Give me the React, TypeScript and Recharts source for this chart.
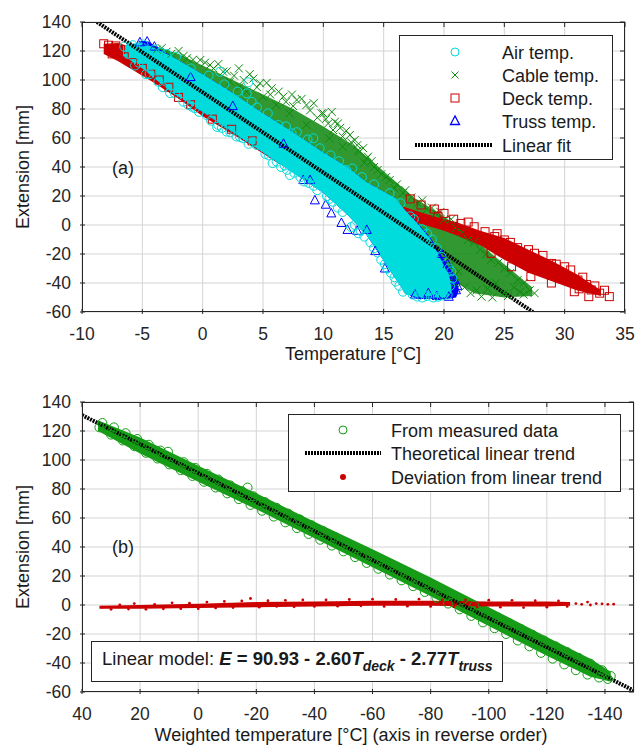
import React from "react"
import { ComposedChart, XAxis, YAxis, CartesianGrid, Scatter, Area, Line } from "recharts"

const FONT = '"Liberation Sans", Arial, sans-serif'
const AX = "#262626"
const GRID = "#d4d4d4"

// ---- panel (a): extension vs temperature ----
const tempTicks = [-10, -5, 0, 5, 10, 15, 20, 25, 30, 35]
const extTicks = [-60, -40, -20, 0, 20, 40, 60, 80, 100, 120, 140]

// dense cores of each cloud: [temperature, lowest extension, highest extension]
const airBand: number[][] = [
  [-6.6, 117, 124], [-5, 108, 126], [-2.5, 91, 116], [0, 78, 104], [2.5, 64, 91],
  [5, 50, 77], [7.5, 36, 64], [10, 22, 50], [12, 7, 40], [13.5, -6, 30],
  [14.8, -22, 24], [15.9, -36, 19], [16.8, -47, 10], [17.8, -50, 1], [18.9, -50, -10],
  [20.3, -50, -33], [20.6, -47, -40],
]
const trussBand: number[][] = [
  [-5.3, 118, 127], [-4.5, 112, 126.5], [-3.5, 104, 121], [-2.5, 91, 116], [0, 78, 104],
  [2.5, 64, 91], [5, 50, 77], [7.5, 36, 64], [10, 22, 50], [12, 7, 40], [13.5, -6, 30],
  [14.8, -22, 24], [15.9, -36, 19], [16.8, -47, 10], [17.8, -51, 1.5], [18.9, -51, -9],
  [20.3, -51, -28], [21, -50, -36], [21.2, -46, -42],
]
const cableBand: number[][] = [
  [-4.2, 118, 124], [-2, 106, 118], [0, 95, 110], [2.5, 82, 100], [5, 70, 90],
  [7.5, 56, 80], [10, 42, 68], [12.5, 28, 55], [15, 12, 37], [17.5, -8, 19],
  [20, -35, 6], [22.5, -47, -10], [25, -50, -27], [27.3, -49, -43],
]
const deckBand: number[][] = [
  [-8.2, 118, 125], [-7, 113, 125.5], [-6, 108, 123], [-5, 103, 118], [-4, 98, 113],
  [-2, 87, 102], [0, 75, 90], [3, 60, 76], [6, 44, 60], [9, 30, 46], [12, 17, 33], [15, 5, 17],
  [18, 1, 9], [20, -4, 4], [21, -7, 2], [23, -14, -4], [25, -24, -9], [27, -33, -17],
  [29, -39, -25], [31, -45, -34], [33, -49, -45],
]

// individual markers around the edges: [temperature, extension]
const airPts: number[][] = [
  [-6.5, 123], [-5.8, 124], [-4.9, 124.5], [-4, 121], [-3, 118], [1.43, 105.7], [3.78, 98.4],
  [3.65, 90.8], [4.06, 85], [6.27, 69], [7.37, 63.2], [9.17, 59.8], [9.7, 52.9], [11.9, 37.9],
  [15.5, 21.9], [15.9, 15], [17.2, 6], [18.2, -3], [19, -10], [20.05, -35.6], [20.6, -32],
  [20.3, -48], [-6.2, 118], [-5.3, 112], [-4.4, 104], [-3.68, 98.8], [-2.3, 90.8], [-1.6, 85],
  [-0.64, 80.5], [-0.9, 81.6], [0.33, 75.9], [1.2, 67.6], [1.29, 69], [1.99, 64.4], [3.1, 60.7],
  [3.36, 59.8], [4.47, 55.2], [5.8, 42.7], [6.13, 43.7], [7, 38], [7.23, 34.5], [8.1, 33],
  [9.2, 27], [10.3, 20], [11.2, 12], [12.3, -1.4], [12.9, -5.7], [13.4, -8], [13.9, -12],
  [14.8, -24], [15.3, -30], [15.9, -36], [16.3, -42], [17, -44.8], [17.8, -49.4], [18.6, -49],
  [19.5, -49.5], [-5.6, 110], [-4.7, 104], [-3.3, 95], [-2.7, 91], [-1.2, 83], [-0.3, 78],
  [0.7, 72], [1.6, 67], [2.3, 64], [2.8, 61], [3.8, 56], [4.2, 57], [5.2, 49], [5.5, 48],
  [6.5, 40], [6.8, 41], [7.6, 36], [8.4, 30], [8.8, 29], [9.5, 24], [10.5, 18], [10.8, 16],
  [11.6, 9], [12.6, 0], [13.1, -4], [14.2, -16], [14.5, -19], [15.1, -27], [15.6, -33],
  [16, -39], [16.6, -46], [17.4, -48], [18.2, -50], [19.1, -50], [19.9, -48.5], [-3.5, 119],
  [-2.2, 116], [-1, 108], [0.5, 103], [1.8, 97], [2.9, 92], [4.5, 81], [5.4, 77], [6.9, 68],
  [7.8, 64], [8.7, 59], [10.6, 48], [11.3, 44], [12.4, 39], [13.2, 33], [14.2, 28], [16.4, 15],
  [17.5, 4], [18.6, -6], [19.4, -16], [19.8, -22], [20.4, -30], [20.5, -42], [20.7, -37],
]
const trussPts: number[][] = [
  [-5.2, 126], [-4.6, 126.5], [-4, 123], [8.34, 31], [8.9, 31], [9.3, 17], [10.2, 14],
  [10.66, 8], [11.5, 1.4], [12, -3.4], [13.6, -3.4], [12.8, -4], [18.7, -47], [21, -45],
  [20.9, -38], [19.4, -49], [17.6, -48], [20.4, -49.5], [21.1, -42], [14.3, -18], [15.1, -30],
  [19.8, -20], [20.3, -27], [6.7, 56], [2.5, 82], [-1, 102],
]
const cablePts: number[][] = [
  [-3.8, 121], [-3, 119.5], [-1.3, 115], [-0.2, 113.8], [0.6, 110.3], [1.7, 105.7], [2.26, 98.8],
  [3.09, 95.4], [3.65, 92], [4.2, 101], [4.75, 97.7], [5, 88.5], [5.72, 94.3], [6.1, 82.8],
  [6.68, 88.5], [7.2, 77], [7.79, 86.2], [8.6, 82.8], [8.6, 69], [9.86, 77], [10, 77],
  [10.4, 70], [10.5, 59.8], [10.8, 65.5], [10.96, 71.2], [11.2, 70], [11.6, 61], [11.6, 54],
  [12.2, 62.1], [12.6, 58.6], [12.9, 51.7], [13, 50.6], [13.4, 43], [13.6, 46], [13.7, 47.1],
  [14.5, 37.9], [15.2, 33], [15.9, 25.3], [16.6, 22], [17.8, 15], [18.6, 11], [19.3, 8],
  [20, 3.6], [21, -2], [22, -10.3], [23, -17], [23.9, -24], [25, -30], [26.1, -38],
  [27.1, -45], [21.7, -43], [22.7, -45], [23.1, -49.4], [25, -47], [25.8, -43], [24.3, -40],
  [26.6, -48], [20.8, -36], [20.5, -28], [-3.4, 122], [-2.6, 118], [-2, 120], [-1.6, 116.5],
  [-0.8, 114], [0.2, 112], [0.9, 108], [1.3, 111], [2, 106], [2.6, 103], [3, 108], [3.4, 100],
  [3.9, 104], [4.5, 95], [5.3, 98], [5.6, 90], [6.3, 92], [6.9, 85], [7.4, 90], [7.5, 82],
  [8.2, 87], [8.9, 79], [9.2, 84], [9.5, 74], [10.2, 73], [10.7, 78], [11.4, 67], [11.9, 65],
  [12.3, 57], [12.8, 55], [13.3, 53], [14, 44], [14.2, 40], [14.8, 35], [15.5, 31], [16.1, 28],
  [16.8, 24], [17.3, 19], [18.2, 17], [19, 12], [19.7, 9], [20.6, 4], [21.5, -5], [22.5, -12],
  [23.5, -20], [24.5, -26], [25.5, -33], [26.6, -40], [27.5, -47], [22.2, -47], [24, -50],
  [25.3, -49], [26.3, -46], [20.9, -40], [21.2, -32], [23.6, -44],
]
const deckPts: number[][] = [
  [-8.2, 125], [-7.8, 124], [-7.2, 123.5], [-6.8, 121], [-7.5, 118], [-6.5, 116], [-5.8, 112],
  [-5, 108], [-4.3, 104], [-3.6, 100], [-2.8, 95], [-2, 88], [-1, 83], [0.8, 73], [2.4, 66],
  [4.1, 58], [17.2, 18], [18.1, 13.8], [19.2, 11], [20, 8], [21.4, 1.1], [22.5, -1.2],
  [23.4, -4.6], [21.4, -3.4], [25, -10.3], [26.1, -15.6], [27.5, -19.5], [28.9, -26.5],
  [30, -28.8], [31.1, -38], [32.2, -44.8], [32.9, -47], [33.7, -49.4], [32, -49.4],
  [30.8, -46], [28.9, -40], [27.2, -35.6], [25.6, -28.8], [23.9, -19.5], [24.2, -8],
  [29.5, -33], [31.8, -41], [26.8, -25], [19.5, 6], [20.8, 4], [22, 2], [24.4, -6],
  [25.5, -12], [27, -17], [28.2, -21], [29.3, -27], [30.5, -31], [31.5, -36], [32.5, -42],
  [33.3, -45], [26, -22], [27.8, -31], [29.8, -37], [31.2, -44], [24.8, -16], [22.8, -9],
]
const fitA: number[][] = [[-8.76, 140], [27.37, -60]]

// ---- panel (b): extension vs weighted temperature ----
const wTicks = [40, 20, 0, -20, -40, -60, -80, -100, -120, -140]

const measBand: number[][] = [
  [34.5, 120, 127.5], [20, 104.5, 115.5], [0, 85, 96], [-20, 66, 77], [-40, 46, 57.5],
  [-60, 26, 38.5], [-80, 6, 19], [-100, -14.5, -1.5], [-120, -35, -22], [-135, -49.5, -37],
  [-142, -53, -46],
]
const measPts: number[][] = [
  [34, 122.5], [33, 125.5], [30, 117.5], [29, 122.5], [26, 113.5], [25, 118.5], [22, 109.5],
  [21, 114.5], [18, 105], [17, 110.5], [14, 101], [13, 106.5], [10, 97], [10.4, 105.7],
  [6, 93], [5, 98.5], [2, 89], [1, 94.5], [-2, 85], [-3, 90.5], [-6, 81], [-7, 86.5],
  [-10, 77], [-11, 82.5], [-14, 73], [-15, 78.5], [-17, 81], [-18, 69], [-19, 75], [-22, 65],
  [-23, 71], [-26, 61], [-27, 67], [-30, 57], [-31, 63], [-34, 53], [-35, 59], [-38, 49],
  [-39, 55], [-42, 45], [-43, 51], [-46, 41], [-47, 47], [-50, 37], [-51, 43], [-54, 33],
  [-55, 39], [-58, 29], [-59, 35], [-62, 25], [-63, 31.5], [-66, 21], [-67, 27.5], [-70, 17],
  [-71, 23.5], [-74, 13], [-75, 19.5], [-78, 9], [-79, 15.5], [-82, 5], [-83, 11.5], [-86, 1],
  [-87, 7.5], [-90, -3], [-91, 3.5], [-94, -7.5], [-95, -0.5], [-98, -12], [-99, -4.5],
  [-102, -16], [-103, -8.5], [-106, -20], [-107, -12.5], [-110, -24.5], [-111, -16.5],
  [-114, -28.5], [-115, -20.5], [-118, -33], [-119, -24.5], [-122, -37], [-123, -28.5],
  [-126, -41], [-127, -32.5], [-130, -45], [-131, -36.5], [-134, -48], [-135, -40.5],
  [-138, -50], [-139, -45], [-141, -51], [-142, -49],
]
const devBand: number[][] = [
  [34, -2.5, -0.5], [20, -2.5, 0], [0, -2, 0.8], [-20, -1.5, 2], [-40, -1, 2.5],
  [-60, -0.5, 3], [-80, -0.5, 3], [-100, -1, 2.5], [-120, -1, 2.5], [-128, -0.5, 2],
]
const devPts: number[][] = [
  [33, -1.5], [30, -3], [27, 0], [24, -2.8], [22, 1], [18, -3], [15, 0.5], [12, -2.6], [9, 1.5],
  [6, -2.5], [3, 1.2], [0, -2.5], [-3, 2], [-6, -2], [-9, 2.5], [-12, -1.8], [-15, 2.8],
  [-18, 4.5], [-21, -1.5], [-24, 3], [-27, -1], [-30, 3.2], [-33, -1.2], [-36, 3.5], [-40, -1],
  [-44, 3.5], [-48, -0.8], [-52, 3.8], [-56, -0.5], [-60, 4], [-64, -1], [-68, 3.8],
  [-72, -0.8], [-76, 4], [-80, -1], [-84, 3.6], [-88, -1.2], [-92, 3.5], [-96, -1.5],
  [-100, 3.3], [-104, -1.5], [-108, 3.2], [-112, -1.8], [-116, 3], [-120, -1.5], [-124, 2.8],
  [-127, -1], [-130, 1], [-132, 0.5], [-134, 2], [-135, 0], [-137, 1], [-139, 0.8],
  [-141, 0.5], [-143, 0.6],
]
const fitB: number[][] = [[40, 130.93], [-150, -59.07]]

const band = (rows: number[][]) => rows.map(([x, lo, hi]) => ({ x, r: [lo, hi] }))
const pts = (rows: number[][]) => rows.map(([x, y]) => ({ x, y }))

const C_AIR = "#00dcdc"
const C_CABLE = "#0b8a0b"
const C_DECK = "#cc0000"
const C_TRUSS = "#0000ff"
const C_MEAS = "#169c16"

// plot boxes in page pixels
const PA = { left: 82, top: 22, right: 625, bottom: 312 }
const PB = { left: 82, top: 402, right: 634, bottom: 692 }

const circle = (color: string, r = 4.5) => (p: any) => (
  <circle cx={p.cx} cy={p.cy} r={r} fill="none" stroke={color} strokeWidth={1} />
)
const dot = (color: string, r = 1.4) => (p: any) => <circle cx={p.cx} cy={p.cy} r={r} fill={color} />
const cross = (color: string) => (p: any) => (
  <g stroke={color} strokeWidth={1}>
    <line x1={p.cx - 4} y1={p.cy - 4} x2={p.cx + 4} y2={p.cy + 4} />
    <line x1={p.cx - 4} y1={p.cy + 4} x2={p.cx + 4} y2={p.cy - 4} />
  </g>
)
const square = (color: string) => (p: any) => (
  <rect x={p.cx - 4} y={p.cy - 4} width={8} height={8} fill="none" stroke={color} strokeWidth={1} />
)
const triangle = (color: string) => (p: any) => (
  <polygon
    points={`${p.cx},${p.cy - 5} ${p.cx - 4.5},${p.cy + 3.5} ${p.cx + 4.5},${p.cy + 3.5}`}
    fill="none"
    stroke={color}
    strokeWidth={1}
  />
)

// inward tick marks on both sides of the box, label outside
const xTick = (top: number) => (props: any) => {
  const { y, payload } = props
  const x = payload.coordinate
  return (
    <g>
      <line x1={x} x2={x} y1={y} y2={y - 5} stroke={AX} />
      <line x1={x} x2={x} y1={top} y2={top + 5} stroke={AX} />
      <text x={x} y={y + 26} textAnchor="middle" fontSize={17.5} fill={AX} fontFamily={FONT}>
        {payload.value}
      </text>
    </g>
  )
}
const yTick = (right: number) => (props: any) => {
  const { x, y, payload } = props
  return (
    <g>
      <line x1={x} x2={x + 5} y1={y} y2={y} stroke={AX} />
      <line x1={right} x2={right - 5} y1={y} y2={y} stroke={AX} />
      <text x={x - 9} y={y + 6} textAnchor="end" fontSize={17.5} fill={AX} fontFamily={FONT}>
        {payload.value}
      </text>
    </g>
  )
}

function PanelA() {
  return (
    <ComposedChart width={638} height={345} margin={{ top: PA.top, right: 638 - PA.right, bottom: 0, left: 0 }}>
      <CartesianGrid stroke={GRID} />
      <XAxis
        dataKey="x" type="number" domain={[-10, 35]} ticks={tempTicks} interval={0} height={33}
        allowDataOverflow tickSize={0} axisLine={false} tickLine={false} tick={xTick(PA.top)}
      />
      <YAxis
        dataKey="y" type="number" domain={[-60, 140]} ticks={extTicks} interval={0} width={82}
        allowDataOverflow tickSize={0} axisLine={false} tickLine={false} tick={yTick(PA.right)}
      />
      <Area data={band(cableBand)} dataKey="r" type="linear" fill="#1c8e1c" fillOpacity={0.9} stroke="none" isAnimationActive={false} />
      <Scatter data={pts(cablePts)} shape={cross(C_CABLE)} isAnimationActive={false} />
      <Area data={band(deckBand)} dataKey="r" type="linear" fill={C_DECK} fillOpacity={1} stroke="none" isAnimationActive={false} />
      <Scatter data={pts(deckPts)} shape={square(C_DECK)} isAnimationActive={false} />
      <Area data={band(trussBand)} dataKey="r" type="linear" fill={C_TRUSS} fillOpacity={1} stroke="none" isAnimationActive={false} />
      <Scatter data={pts(trussPts)} shape={triangle(C_TRUSS)} isAnimationActive={false} />
      <Area data={band(airBand)} dataKey="r" type="linear" fill={C_AIR} fillOpacity={1} stroke="none" isAnimationActive={false} />
      <Scatter data={pts(airPts)} shape={circle(C_AIR)} isAnimationActive={false} />
      <Line data={pts(fitA)} dataKey="y" type="linear" stroke="#000" strokeWidth={4} strokeDasharray="2 1" dot={false} isAnimationActive={false} />
    </ComposedChart>
  )
}

function PanelB() {
  return (
    <ComposedChart width={638} height={345} margin={{ top: 22, right: 638 - PB.right, bottom: 0, left: 0 }}>
      <CartesianGrid stroke={GRID} />
      <XAxis
        dataKey="x" type="number" domain={[-150, 40]} reversed ticks={wTicks} interval={0} height={33}
        allowDataOverflow tickSize={0} axisLine={false} tickLine={false} tick={xTick(22)}
      />
      <YAxis
        dataKey="y" type="number" domain={[-60, 140]} ticks={extTicks} interval={0} width={82}
        allowDataOverflow tickSize={0} axisLine={false} tickLine={false} tick={yTick(PB.right)}
      />
      <Area data={band(measBand)} dataKey="r" type="linear" fill={C_MEAS} fillOpacity={1} stroke="none" isAnimationActive={false} />
      <Scatter data={pts(measPts)} shape={circle(C_MEAS)} isAnimationActive={false} />
      <Area data={band(devBand)} dataKey="r" type="linear" fill={C_DECK} fillOpacity={1} stroke="none" isAnimationActive={false} />
      <Scatter data={pts(devPts)} shape={dot(C_DECK)} isAnimationActive={false} />
      <Line data={pts(fitB)} dataKey="y" type="linear" stroke="#000" strokeWidth={4} strokeDasharray="2 1" dot={false} isAnimationActive={false} />
    </ComposedChart>
  )
}

function Overlay() {
  const t = { fontFamily: FONT, fill: "#1a1a1a" }
  const legA = [
    { label: "Air temp.", y: 52 },
    { label: "Cable temp.", y: 75 },
    { label: "Deck temp.", y: 98 },
    { label: "Truss temp.", y: 121 },
    { label: "Linear fit", y: 145 },
  ]
  return (
    <svg width={638} height={747} style={{ position: "absolute", left: 0, top: 0, pointerEvents: "none" }}>
      {/* frames */}
      <rect x={PA.left + 0.5} y={PA.top + 0.5} width={PA.right - PA.left - 1} height={PA.bottom - PA.top - 1} fill="none" stroke={AX} />
      <rect x={PB.left + 0.5} y={PB.top + 0.5} width={PB.right - PB.left - 1} height={PB.bottom - PB.top - 1} fill="none" stroke={AX} />

      {/* axis titles */}
      <text x={353} y={360} textAnchor="middle" fontSize={18} {...t}>Temperature [°C]</text>
      <text x={351} y={741} textAnchor="middle" fontSize={18} {...t}>Weighted temperature [°C] (axis in reverse order)</text>
      <text transform="translate(29,167) rotate(-90)" textAnchor="middle" fontSize={18} {...t}>Extension [mm]</text>
      <text transform="translate(29,547) rotate(-90)" textAnchor="middle" fontSize={18} {...t}>Extension [mm]</text>
      <text x={112} y={174} fontSize={18} {...t}>(a)</text>
      <text x={112} y={553} fontSize={18} {...t}>(b)</text>

      {/* legend (a) */}
      <rect x={399.5} y={35.5} width={213} height={124} fill="#fff" stroke={AX} />
      <circle cx={455} cy={52} r={4} fill="none" stroke={C_AIR} />
      <g stroke={C_CABLE}>
        <line x1={451.5} y1={71.5} x2={458.5} y2={78.5} />
        <line x1={451.5} y1={78.5} x2={458.5} y2={71.5} />
      </g>
      <rect x={451} y={94} width={8} height={8} fill="none" stroke={C_DECK} />
      <polygon points="455,116 450.5,124.5 459.5,124.5" fill="none" stroke={C_TRUSS} strokeWidth={1.3} />
      <line x1={415} x2={492} y1={145} y2={145} stroke="#000" strokeWidth={4} strokeDasharray="2 1" />
      {legA.map(r => (
        <text key={r.label} x={502} y={r.y + 6.5} fontSize={18} {...t}>{r.label}</text>
      ))}

      {/* legend (b) */}
      <rect x={288.5} y={414.5} width={332} height={77} fill="#fff" stroke={AX} />
      <circle cx={343} cy={430} r={4} fill="none" stroke={C_MEAS} />
      <line x1={305} x2={381} y1={453} y2={453} stroke="#000" strokeWidth={4} strokeDasharray="2 1" />
      <circle cx={343} cy={477} r={3} fill={C_DECK} />
      <text x={391} y={436.5} fontSize={18} {...t}>From measured data</text>
      <text x={391} y={459.5} fontSize={18} {...t}>Theoretical linear trend</text>
      <text x={391} y={483.5} fontSize={18} {...t}>Deviation from linear trend</text>

      {/* model box */}
      <rect x={91.5} y={641.5} width={411} height={40} fill="#fff" stroke={AX} />
      <text x={102} y={665} fontSize={18.5} {...t}>
        <tspan>Linear model: </tspan>
        <tspan fontWeight="bold" fontStyle="italic">E</tspan>
        <tspan fontWeight="bold"> = 90.93 - 2.60</tspan>
        <tspan fontWeight="bold" fontStyle="italic">T</tspan>
        <tspan fontWeight="bold" fontStyle="italic" fontSize={14} dy={6}>deck</tspan>
        <tspan fontWeight="bold" dy={-6}> - 2.77</tspan>
        <tspan fontWeight="bold" fontStyle="italic">T</tspan>
        <tspan fontWeight="bold" fontStyle="italic" fontSize={14} dy={6}>truss</tspan>
      </text>
    </svg>
  )
}

export default function App() {
  return (
    <div style={{ position: "absolute", left: 0, top: 0, width: 638, height: 747, background: "#fff", fontFamily: FONT }}>
      <div style={{ position: "absolute", left: 0, top: 0 }}>
        <PanelA />
      </div>
      <div style={{ position: "absolute", left: 0, top: 380 }}>
        <PanelB />
      </div>
      <Overlay />
    </div>
  )
}
